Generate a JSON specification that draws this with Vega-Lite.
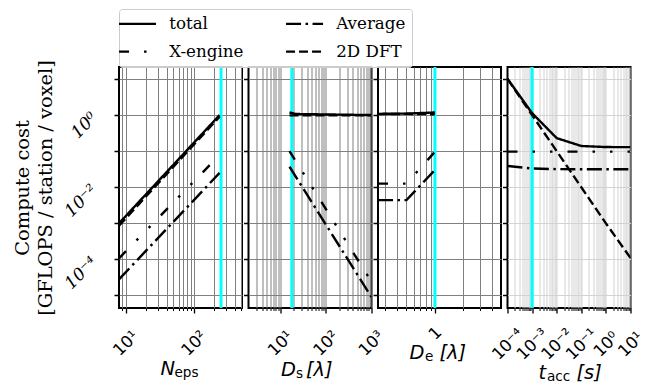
{
  "$schema": "https://vega.github.io/schema/vega-lite/v6.json",
  "padding": {"left": 10, "top": 8, "right": 0, "bottom": 0},
  "background": "white",
  "config": {
    "view": {"stroke": "black", "strokeWidth": 2},
    "axis": {
      "domain": false,
      "tickColor": "black",
      "tickWidth": 1.3,
      "labelColor": "black",
      "titleColor": "black",
      "titleFontWeight": "normal",
      "gridColor": "#808080",
      "gridWidth": 1,
      "gridOpacity": 1
    },
    "line": {"strokeCap": "butt"}
  },
  "datasets": {
    "cost": [
      {"panel": "N", "x": 8, "series": "total", "y": 0.001},
      {"panel": "N", "x": 240, "series": "total", "y": 1.0},
      {"panel": "N", "x": 8, "series": "2D DFT", "y": 0.00086},
      {"panel": "N", "x": 240, "series": "2D DFT", "y": 0.9},
      {"panel": "N", "x": 8, "series": "X-engine", "y": 0.000107},
      {"panel": "N", "x": 240, "series": "X-engine", "y": 0.078},
      {"panel": "N", "x": 8, "series": "Average", "y": 0.000028},
      {"panel": "N", "x": 240, "series": "Average", "y": 0.025},

      {"panel": "Ds", "x": 16, "series": "total", "y": 1.18},
      {"panel": "Ds", "x": 22, "series": "total", "y": 1.07},
      {"panel": "Ds", "x": 1024, "series": "total", "y": 1.0},
      {"panel": "Ds", "x": 16, "series": "2D DFT", "y": 0.98},
      {"panel": "Ds", "x": 1024, "series": "2D DFT", "y": 0.98},
      {"panel": "Ds", "x": 16, "series": "X-engine", "y": 0.1},
      {"panel": "Ds", "x": 1024, "series": "X-engine", "y": 0.000024},
      {"panel": "Ds", "x": 16, "series": "Average", "y": 0.037},
      {"panel": "Ds", "x": 1024, "series": "Average", "y": 0.000009},

      {"panel": "De", "x": 0.25, "series": "total", "y": 1.08},
      {"panel": "De", "x": 0.5, "series": "total", "y": 1.1},
      {"panel": "De", "x": 1, "series": "total", "y": 1.18},
      {"panel": "De", "x": 0.25, "series": "2D DFT", "y": 1.06},
      {"panel": "De", "x": 0.5, "series": "2D DFT", "y": 1.08},
      {"panel": "De", "x": 1, "series": "2D DFT", "y": 1.05},
      {"panel": "De", "x": 0.25, "series": "X-engine", "y": 0.0126},
      {"panel": "De", "x": 0.5, "series": "X-engine", "y": 0.0126},
      {"panel": "De", "x": 1, "series": "X-engine", "y": 0.096},
      {"panel": "De", "x": 0.25, "series": "Average", "y": 0.0044},
      {"panel": "De", "x": 0.5, "series": "Average", "y": 0.0044},
      {"panel": "De", "x": 1, "series": "Average", "y": 0.03},

      {"panel": "t", "x": 0.0001, "series": "total", "y": 10.14},
      {"panel": "t", "x": 0.001, "series": "total", "y": 1.13},
      {"panel": "t", "x": 0.01, "series": "total", "y": 0.23},
      {"panel": "t", "x": 0.1, "series": "total", "y": 0.139},
      {"panel": "t", "x": 1, "series": "total", "y": 0.13},
      {"panel": "t", "x": 10, "series": "total", "y": 0.129},
      {"panel": "t", "x": 0.0001, "series": "2D DFT", "y": 10},
      {"panel": "t", "x": 0.001, "series": "2D DFT", "y": 1},
      {"panel": "t", "x": 0.01, "series": "2D DFT", "y": 0.1},
      {"panel": "t", "x": 0.1, "series": "2D DFT", "y": 0.01},
      {"panel": "t", "x": 1, "series": "2D DFT", "y": 0.001},
      {"panel": "t", "x": 10, "series": "2D DFT", "y": 0.00011},
      {"panel": "t", "x": 0.0001, "series": "X-engine", "y": 0.097},
      {"panel": "t", "x": 0.001, "series": "X-engine", "y": 0.097},
      {"panel": "t", "x": 0.01, "series": "X-engine", "y": 0.097},
      {"panel": "t", "x": 0.1, "series": "X-engine", "y": 0.097},
      {"panel": "t", "x": 1, "series": "X-engine", "y": 0.097},
      {"panel": "t", "x": 10, "series": "X-engine", "y": 0.097},
      {"panel": "t", "x": 0.0001, "series": "Average", "y": 0.039},
      {"panel": "t", "x": 0.001, "series": "Average", "y": 0.033},
      {"panel": "t", "x": 0.01, "series": "Average", "y": 0.0318},
      {"panel": "t", "x": 0.1, "series": "Average", "y": 0.0316},
      {"panel": "t", "x": 1, "series": "Average", "y": 0.0316},
      {"panel": "t", "x": 10, "series": "Average", "y": 0.0316}
    ],
    "chosen": [
      {"panel": "N", "x": 252},
      {"panel": "Ds", "x": 18},
      {"panel": "De", "x": 1},
      {"panel": "t", "x": 0.001}
    ]
  },
  "bounds": "flush",
  "spacing": 6.5,
  "resolve": {"scale": {"strokeDash": "shared"}, "legend": {"strokeDash": "shared"}},
  "hconcat": [
    {
      "width": 123,
      "height": 241,
      "resolve": {"axis": {"x": "independent"}},
      "layer": [
        {
          "data": {"name": "chosen"},
          "transform": [{"filter": "datum.panel == 'N'"}],
          "mark": {"type": "rule", "color": "#00ffff", "strokeWidth": 3},
          "encoding": {
            "x": {
              "field": "x", "type": "quantitative",
              "scale": {"type": "log", "domain": [8, 512], "nice": false},
              "axis": {
                "orient": "bottom",
                "values": [9, 20, 30, 40, 50, 60, 70, 80, 90, 200, 300, 400, 500],
                "labels": false, "tickSize": 2.5, "tickWidth": 1, "grid": true,
                "title": "eps", "titleFont": "DejaVu Sans", "titleFontSize": 13.6,
                "titleAlign": "left", "titleBaseline": "alphabetic", "titleAngle": 0,
                "titleX": 55, "titleY": 68
              }
            }
          }
        },
        {
          "data": {"name": "cost"},
          "transform": [{"filter": "datum.panel == 'N' && datum.series != 'total'"}],
          "mark": {"type": "line", "color": "black", "strokeWidth": 2.4, "clip": true},
          "encoding": {
            "x": {
              "field": "x", "type": "quantitative",
              "scale": {"type": "log", "domain": [8, 512], "nice": false},
              "axis": {
                "orient": "bottom",
                "values": [10, 100],
                "labelExpr": "'10' + (round(log(datum.value)/LN10) < 0 ? '⁻' : '') + substring('⁰¹²³⁴⁵⁶⁷⁸⁹', abs(round(log(datum.value)/LN10)), abs(round(log(datum.value)/LN10)) + 1)",
                "labelFont": "DejaVu Sans", "labelFontSize": 16.5, "labelAngle": -45,
                "labelAlign": "center", "labelBaseline": "middle", "labelPadding": 30,
                "labelOverlap": false, "labelFlush": false,
                "tickSize": 5, "grid": true,
                "title": "N", "titleFont": "DejaVu Sans", "titleFontStyle": "italic", "titleFontSize": 19.4,
                "titleAlign": "left", "titleBaseline": "alphabetic", "titleAngle": 0,
                "titleX": 41, "titleY": 66
              }
            },
            "y": {
              "field": "y", "type": "quantitative",
              "scale": {"type": "log", "domain": [4.5e-6, 21.5], "nice": false},
              "axis": {
                "values": [0.00001, 0.0001, 0.001, 0.01, 0.1, 1, 10],
                "labelExpr": "round(log(datum.value)/LN10) % 2 == 0 ? '10' + (round(log(datum.value)/LN10) < 0 ? '⁻' : '') + substring('⁰¹²³⁴⁵⁶⁷⁸⁹', abs(round(log(datum.value)/LN10)), abs(round(log(datum.value)/LN10)) + 1) : ''",
                "labelFont": "DejaVu Serif", "labelFontStyle": "italic", "labelFontSize": 17,
                "labelAngle": -45, "labelAlign": "right", "labelBaseline": "middle", "labelPadding": 20,
                "labelOverlap": false,
                "tickSize": 5, "tickWidth": 1.5, "grid": true,
                "title": ["Compute cost", "[GFLOPS / station / voxel]"],
                "titleFont": "DejaVu Serif", "titleFontSize": 19.4, "titleLineHeight": 23,
                "titleAngle": -90, "titleAlign": "center", "titleBaseline": "top",
                "titleX": -106, "titleY": 120.5
              }
            },
            "strokeDash": {
              "field": "series", "type": "nominal",
              "scale": {
                "domain": ["total", "X-engine", "Average", "2D DFT"],
                "range": [[1, 0], [10, 15, 2.5, 15, 2.5, 15], [15, 4.5, 2.5, 4.5], [9, 4]]
              },
              "legend": {
                "orient": "none", "legendX": 0, "legendY": -58, "columns": 2,
                "title": null, "symbolType": "M-4,0H4", "symbolSize": 85.6,
                "symbolStrokeWidth": 2.4, "symbolStrokeColor": "black", "symbolFillColor": "transparent",
                "symbolOffset": 4.2,
                "labelFont": "DejaVu Serif", "labelFontSize": 16.7, "labelColor": "black",
                "labelOffset": 23.3, "labelLimit": 200,
                "columnPadding": 37, "rowPadding": 10.3, "padding": 6,
                "strokeColor": "#cccccc", "fillColor": "rgba(255,255,255,0.8)", "cornerRadius": 3
              }
            }
          }
        },
        {
          "data": {"name": "cost"},
          "transform": [{"filter": "datum.panel == 'N' && datum.series == 'total'"}],
          "mark": {"type": "line", "color": "black", "strokeWidth": 2.4, "clip": true},
          "encoding": {
            "x": {
              "field": "x", "type": "quantitative",
              "scale": {"type": "log", "domain": [8, 512], "nice": false},
              "axis": null
            },
            "y": {"field": "y", "type": "quantitative", "scale": {"type": "log", "domain": [4.5e-6, 21.5], "nice": false}},
            "strokeDash": {
              "field": "series", "type": "nominal",
              "scale": {
                "domain": ["total", "X-engine", "Average", "2D DFT"],
                "range": [[1, 0], [10, 15, 2.5, 15, 2.5, 15], [15, 4.5, 2.5, 4.5], [9, 4]]
              }
            }
          }
        }
      ]
    },
    {
      "width": 123,
      "height": 241,
      "resolve": {"axis": {"x": "independent"}},
      "layer": [
        {
          "data": {"name": "chosen"},
          "transform": [{"filter": "datum.panel == 'Ds'"}],
          "mark": {"type": "rule", "color": "#00ffff", "strokeWidth": 3},
          "encoding": {
            "x": {
              "field": "x", "type": "quantitative",
              "scale": {"type": "log", "domain": [2, 1024], "nice": false},
              "axis": {
                "orient": "bottom",
                "values": [3, 4, 5, 6, 7, 8, 9, 20, 30, 40, 50, 60, 70, 80, 90, 200, 300, 400, 500, 600, 700, 800, 900],
                "labels": false, "tickSize": 2.5, "tickWidth": 1, "grid": true,
                "title": "s", "titleFont": "DejaVu Sans", "titleFontSize": 13.6,
                "titleAlign": "left", "titleBaseline": "alphabetic", "titleAngle": 0,
                "titleX": 47, "titleY": 69
              }
            }
          }
        },
        {
          "data": {"name": "cost"},
          "transform": [{"filter": "datum.panel == 'Ds' && datum.series != 'total'"}],
          "mark": {"type": "line", "color": "black", "strokeWidth": 2.4, "clip": true},
          "encoding": {
            "x": {
              "field": "x", "type": "quantitative",
              "scale": {"type": "log", "domain": [2, 1024], "nice": false},
              "axis": {
                "orient": "bottom",
                "values": [10, 100, 1000],
                "labelExpr": "'10' + (round(log(datum.value)/LN10) < 0 ? '⁻' : '') + substring('⁰¹²³⁴⁵⁶⁷⁸⁹', abs(round(log(datum.value)/LN10)), abs(round(log(datum.value)/LN10)) + 1)",
                "labelFont": "DejaVu Sans", "labelFontSize": 16.5, "labelAngle": -45,
                "labelAlign": "center", "labelBaseline": "middle", "labelPadding": 30,
                "labelOverlap": false, "labelFlush": false,
                "tickSize": 5, "grid": true,
                "title": "D", "titleFont": "DejaVu Sans", "titleFontStyle": "italic", "titleFontSize": 19.4,
                "titleAlign": "left", "titleBaseline": "alphabetic", "titleAngle": 0,
                "titleX": 32, "titleY": 67
              }
            },
            "y": {
              "field": "y", "type": "quantitative",
              "scale": {"type": "log", "domain": [4.5e-6, 21.5], "nice": false},
              "axis": {
                "values": [0.00001, 0.0001, 0.001, 0.01, 0.1, 1, 10],
                "labels": false, "title": null,
                "tickSize": 5, "tickWidth": 1.5, "grid": true
              }
            },
            "strokeDash": {
              "field": "series", "type": "nominal",
              "scale": {
                "domain": ["total", "X-engine", "Average", "2D DFT"],
                "range": [[1, 0], [10, 15, 2.5, 15, 2.5, 15], [15, 4.5, 2.5, 4.5], [9, 4]]
              }
            }
          }
        },
        {
          "data": {"name": "cost"},
          "transform": [{"filter": "datum.panel == 'Ds' && datum.series == 'total'"}],
          "mark": {"type": "line", "color": "black", "strokeWidth": 2.4, "clip": true},
          "encoding": {
            "x": {
              "field": "x", "type": "quantitative",
              "scale": {"type": "log", "domain": [2, 1024], "nice": false},
              "axis": {
                "orient": "bottom", "values": [], "labels": false, "ticks": false, "grid": false,
                "title": "[λ]", "titleFont": "DejaVu Sans", "titleFontStyle": "italic", "titleFontSize": 19.4,
                "titleAlign": "left", "titleBaseline": "alphabetic", "titleAngle": 0,
                "titleX": 57, "titleY": 67
              }
            },
            "y": {"field": "y", "type": "quantitative", "scale": {"type": "log", "domain": [4.5e-6, 21.5], "nice": false}},
            "strokeDash": {
              "field": "series", "type": "nominal",
              "scale": {
                "domain": ["total", "X-engine", "Average", "2D DFT"],
                "range": [[1, 0], [10, 15, 2.5, 15, 2.5, 15], [15, 4.5, 2.5, 4.5], [9, 4]]
              }
            }
          }
        }
      ]
    },
    {
      "width": 123,
      "height": 241,
      "resolve": {"axis": {"x": "independent"}},
      "layer": [
        {
          "data": {"name": "chosen"},
          "transform": [{"filter": "datum.panel == 'De'"}],
          "mark": {"type": "rule", "color": "#00ffff", "strokeWidth": 3},
          "encoding": {
            "x": {
              "field": "x", "type": "quantitative",
              "scale": {"type": "log", "domain": [0.25, 5], "nice": false},
              "axis": {
                "orient": "bottom",
                "values": [0.3, 0.4, 0.5, 0.6, 0.7, 0.8, 0.9, 2, 3, 4],
                "labels": false, "tickSize": 2.5, "tickWidth": 1, "grid": true,
                "title": "e", "titleFont": "DejaVu Sans", "titleFontSize": 13.6,
                "titleAlign": "left", "titleBaseline": "alphabetic", "titleAngle": 0,
                "titleX": 46.5, "titleY": 52
              }
            }
          }
        },
        {
          "data": {"name": "cost"},
          "transform": [{"filter": "datum.panel == 'De' && datum.series != 'total'"}],
          "mark": {"type": "line", "color": "black", "strokeWidth": 2.4, "clip": true},
          "encoding": {
            "x": {
              "field": "x", "type": "quantitative",
              "scale": {"type": "log", "domain": [0.25, 5], "nice": false},
              "axis": {
                "orient": "bottom",
                "values": [1],
                "labelExpr": "'1'",
                "labelFont": "DejaVu Sans", "labelFontSize": 16.5, "labelAngle": -45,
                "labelAlign": "center", "labelBaseline": "middle", "labelPadding": 20,
                "labelOverlap": false, "labelFlush": false,
                "tickSize": 5, "grid": true,
                "title": "D", "titleFont": "DejaVu Sans", "titleFontStyle": "italic", "titleFontSize": 19.4,
                "titleAlign": "left", "titleBaseline": "alphabetic", "titleAngle": 0,
                "titleX": 31, "titleY": 50
              }
            },
            "y": {
              "field": "y", "type": "quantitative",
              "scale": {"type": "log", "domain": [4.5e-6, 21.5], "nice": false},
              "axis": {
                "values": [0.00001, 0.0001, 0.001, 0.01, 0.1, 1, 10],
                "labels": false, "title": null,
                "tickSize": 5, "tickWidth": 1.5, "grid": true
              }
            },
            "strokeDash": {
              "field": "series", "type": "nominal",
              "scale": {
                "domain": ["total", "X-engine", "Average", "2D DFT"],
                "range": [[1, 0], [10, 15, 2.5, 15, 2.5, 15], [15, 4.5, 2.5, 4.5], [9, 4]]
              }
            }
          }
        },
        {
          "data": {"name": "cost"},
          "transform": [{"filter": "datum.panel == 'De' && datum.series == 'total'"}],
          "mark": {"type": "line", "color": "black", "strokeWidth": 2.4, "clip": true},
          "encoding": {
            "x": {
              "field": "x", "type": "quantitative",
              "scale": {"type": "log", "domain": [0.25, 5], "nice": false},
              "axis": {
                "orient": "bottom", "values": [], "labels": false, "ticks": false, "grid": false,
                "title": "[λ]", "titleFont": "DejaVu Sans", "titleFontStyle": "italic", "titleFontSize": 19.4,
                "titleAlign": "left", "titleBaseline": "alphabetic", "titleAngle": 0,
                "titleX": 61, "titleY": 50
              }
            },
            "y": {"field": "y", "type": "quantitative", "scale": {"type": "log", "domain": [4.5e-6, 21.5], "nice": false}},
            "strokeDash": {
              "field": "series", "type": "nominal",
              "scale": {
                "domain": ["total", "X-engine", "Average", "2D DFT"],
                "range": [[1, 0], [10, 15, 2.5, 15, 2.5, 15], [15, 4.5, 2.5, 4.5], [9, 4]]
              }
            }
          }
        }
      ]
    },
    {
      "width": 123,
      "height": 241,
      "resolve": {"axis": {"x": "independent"}},
      "layer": [
        {
          "data": {"name": "chosen"},
          "transform": [{"filter": "datum.panel == 't'"}],
          "mark": {"type": "rule", "color": "#00ffff", "strokeWidth": 3},
          "encoding": {
            "x": {
              "field": "x", "type": "quantitative",
              "scale": {"type": "log", "domain": [0.0001, 10], "nice": false},
              "axis": {
                "orient": "bottom",
                "values": [0.0002, 0.0003, 0.0004, 0.0005, 0.0006, 0.0007, 0.0008, 0.0009,
                           0.002, 0.003, 0.004, 0.005, 0.006, 0.007, 0.008, 0.009,
                           0.02, 0.03, 0.04, 0.05, 0.06, 0.07, 0.08, 0.09,
                           0.2, 0.3, 0.4, 0.5, 0.6, 0.7, 0.8, 0.9,
                           2, 3, 4, 5, 6, 7, 8, 9],
                "labels": false, "tickSize": 2.5, "tickWidth": 1, "grid": true, "gridColor": "#d3d3d3",
                "title": "acc", "titleFont": "DejaVu Sans", "titleFontSize": 13.6,
                "titleAlign": "left", "titleBaseline": "alphabetic", "titleAngle": 0,
                "titleX": 39, "titleY": 72
              }
            }
          }
        },
        {
          "data": {"name": "cost"},
          "transform": [{"filter": "datum.panel == 't' && datum.series != 'total'"}],
          "mark": {"type": "line", "color": "black", "strokeWidth": 2.4, "clip": true},
          "encoding": {
            "x": {
              "field": "x", "type": "quantitative",
              "scale": {"type": "log", "domain": [0.0001, 10], "nice": false},
              "axis": {
                "orient": "bottom",
                "values": [0.0001, 0.001, 0.01, 0.1, 1, 10],
                "labelExpr": "'10' + (round(log(datum.value)/LN10) < 0 ? '⁻' : '') + substring('⁰¹²³⁴⁵⁶⁷⁸⁹', abs(round(log(datum.value)/LN10)), abs(round(log(datum.value)/LN10)) + 1)",
                "labelFont": "DejaVu Sans", "labelFontSize": 16.5, "labelAngle": -45,
                "labelAlign": "center", "labelBaseline": "middle", "labelPadding": 31,
                "labelOverlap": false, "labelFlush": false,
                "tickSize": 5, "grid": true, "gridColor": "#d3d3d3",
                "gridOpacity": {"condition": {"test": "datum.value < 0.00011 || datum.value > 9.9", "value": 0}, "value": 1},
                "title": "t", "titleFont": "DejaVu Sans", "titleFontStyle": "italic", "titleFontSize": 19.4,
                "titleAlign": "left", "titleBaseline": "alphabetic", "titleAngle": 0,
                "titleX": 30.5, "titleY": 70
              }
            },
            "y": {
              "field": "y", "type": "quantitative",
              "scale": {"type": "log", "domain": [4.5e-6, 21.5], "nice": false},
              "axis": {
                "values": [0.00001, 0.0001, 0.001, 0.01, 0.1, 1, 10],
                "labels": false, "title": null,
                "tickSize": 5, "tickWidth": 1.5, "grid": true, "gridColor": "#d3d3d3"
              }
            },
            "strokeDash": {
              "field": "series", "type": "nominal",
              "scale": {
                "domain": ["total", "X-engine", "Average", "2D DFT"],
                "range": [[1, 0], [10, 15, 2.5, 15, 2.5, 15], [15, 4.5, 2.5, 4.5], [9, 4]]
              }
            }
          }
        },
        {
          "data": {"name": "cost"},
          "transform": [{"filter": "datum.panel == 't' && datum.series == 'total'"}],
          "mark": {"type": "line", "color": "black", "strokeWidth": 2.4, "clip": true},
          "encoding": {
            "x": {
              "field": "x", "type": "quantitative",
              "scale": {"type": "log", "domain": [0.0001, 10], "nice": false},
              "axis": {
                "orient": "bottom", "values": [], "labels": false, "ticks": false, "grid": false,
                "title": "[s]", "titleFont": "DejaVu Sans", "titleFontStyle": "italic", "titleFontSize": 19.4,
                "titleAlign": "left", "titleBaseline": "alphabetic", "titleAngle": 0,
                "titleX": 68.5, "titleY": 70
              }
            },
            "y": {"field": "y", "type": "quantitative", "scale": {"type": "log", "domain": [4.5e-6, 21.5], "nice": false}},
            "strokeDash": {
              "field": "series", "type": "nominal",
              "scale": {
                "domain": ["total", "X-engine", "Average", "2D DFT"],
                "range": [[1, 0], [10, 15, 2.5, 15, 2.5, 15], [15, 4.5, 2.5, 4.5], [9, 4]]
              }
            }
          }
        }
      ]
    }
  ]
}
